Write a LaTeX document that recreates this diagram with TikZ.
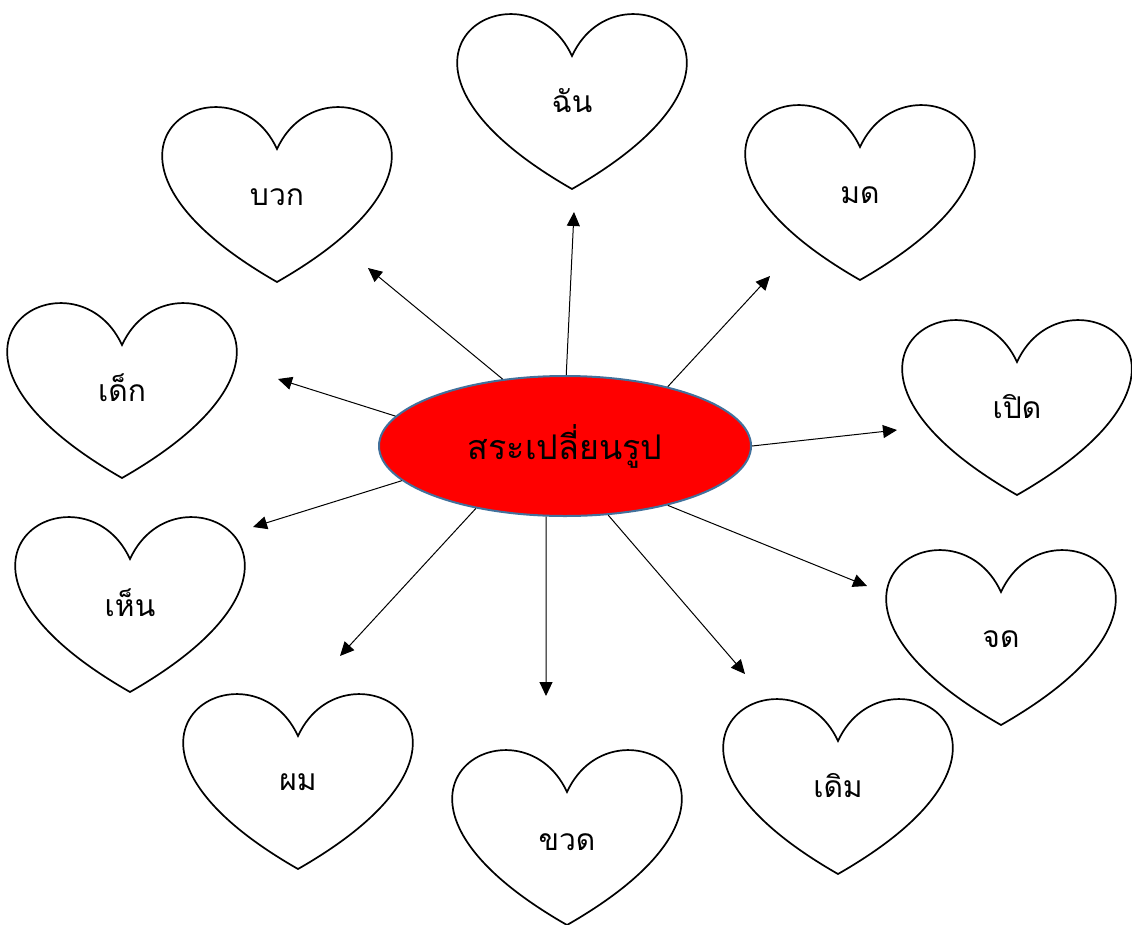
\documentclass[tikz,border=0pt]{standalone}
\usepackage{fontspec}
\newfontfamily\thaifont[Script=Thai]{Loma}
\usetikzlibrary{arrows.meta,shapes.geometric}
\definecolor{ellborder}{HTML}{41719C}
\tikzset{
  heart/.style={draw=black, line width=1.7pt, fill=white},
  lbl/.style={anchor=base, inner sep=0pt, font=\thaifont\fontsize{30}{36}\selectfont},
  arr/.style={draw=black, line width=1pt, -{Triangle[length=14pt,width=13pt]}},
  centre/.style={ellipse, draw=ellborder, line width=2pt, fill=red, minimum width=372pt, minimum height=140pt, inner sep=0pt}
}
\newcommand{\drawheart}[2]{%
  \draw[heart] (#1+114,#2+44) .. controls (#1+161.5,#2-59) and (#1+346.75,#2+44) .. (#1+114,#2+177) .. controls (#1-118.75,#2+44) and (#1+66.5,#2-59) .. cycle;}
\begin{document}
\begin{tikzpicture}[x=1pt,y=-1pt]
\useasboundingbox[fill=white] (0,0) rectangle (1132,924);
\begin{scope}
\clip (0,0) rectangle (1132,924);
\drawheart{458}{12}
\drawheart{163}{105}
\drawheart{746}{103}
\drawheart{8}{301}
\drawheart{903}{318}
\drawheart{16}{515}
\drawheart{887}{548}
\drawheart{184}{692}
\drawheart{453}{748}
\drawheart{724}{697}
\end{scope}
\node[lbl] (h1) at (572,112) {ฉัน};
\node[lbl] (h2) at (277,205) {บวก};
\node[lbl] (h3) at (860,203) {มด};
\node[lbl] (h4) at (122,401) {เด็ก};
\node[lbl] (h5) at (1017,418) {เปิด};
\node[lbl] (h6) at (130,616) {เห็น};
\node[lbl] (h7) at (1001,647) {จด};
\node[lbl] (h8) at (298,790) {ผม};
\node[lbl] (h9) at (567,850) {ขวด};
\node[lbl] (h10) at (838,797) {เดิม};
\node[centre] (c) at (565,446) {};
\node[inner sep=0pt, anchor=base, font=\thaifont\fontsize{34}{40}\selectfont] (ct) at (565,459) {สระเปลี่ยนรูป};
\coordinate (t1) at (574,212);
\coordinate (t2) at (368,268);
\coordinate (t3) at (770,276);
\coordinate (t4) at (278,379);
\coordinate (t5) at (897,430);
\coordinate (t6) at (253,527);
\coordinate (t7) at (867,586);
\coordinate (t8) at (340,656);
\coordinate (t9) at (546,696);
\coordinate (t10) at (745,674);
\draw[arr] (c.89) -- (t1);
\draw[arr] (c.133) -- (t2);
\draw[arr] (c.30.6) -- (t3);
\draw[arr] (c.170) -- (t4);
\draw[arr] (c.0.3) -- (t5);
\draw[arr] (c.192.7) -- (t6);
\draw[arr] (c.330.7) -- (t7);
\draw[arr] (c.215) -- (t8);
\draw[arr] (c.255) -- (t9);
\draw[arr] (c.302) -- (t10);
\end{tikzpicture}
\end{document}
